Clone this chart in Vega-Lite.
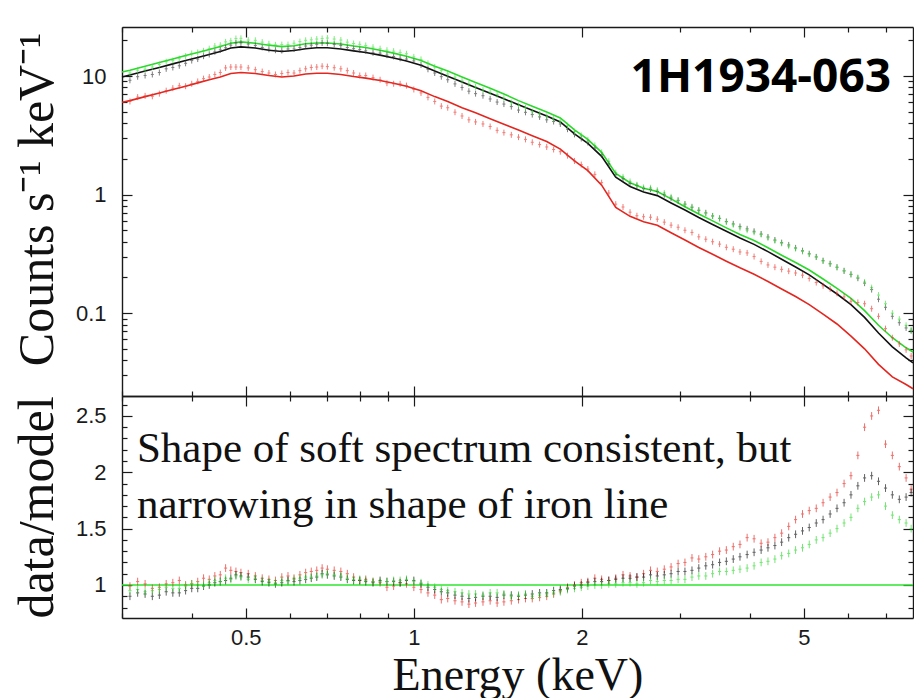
{
  "$schema": "https://vega.github.io/schema/vega-lite/v6.json",
  "padding": {"left": 12, "top": 26, "right": 0, "bottom": 0},
  "background": "white",
  "spacing": 0,
  "bounds": "flush",
  "datasets": {
    "d": [
      {"E":0.31,"cb":9.2,"cg":10.6,"cr":6.1,"rb":0.90,"rg":0.95,"rr":0.99},
      {"E":0.33,"cb":10.1,"cg":11.4,"cr":6.8,"rb":0.92,"rg":0.94,"rr":1.01},
      {"E":0.35,"cb":10.7,"cg":12.5,"cr":7.1,"rb":0.91,"rg":0.96,"rr":0.98},
      {"E":0.37,"cb":11.8,"cg":13.5,"cr":7.9,"rb":0.93,"rg":0.97,"rr":1.02},
      {"E":0.39,"cb":12.8,"cg":14.7,"cr":8.2,"rb":0.95,"rg":0.99,"rr":1.0},
      {"E":0.41,"cb":13.9,"cg":15.8,"cr":9.0,"rb":0.97,"rg":1.0,"rr":1.03},
      {"E":0.43,"cb":15.2,"cg":17.0,"cr":9.8,"rb":1.0,"rg":1.02,"rr":1.05},
      {"E":0.45,"cb":16.6,"cg":18.2,"cr":10.7,"rb":1.03,"rg":1.03,"rr":1.09},
      {"E":0.47,"cb":18.2,"cg":19.8,"cr":11.9,"rb":1.06,"rg":1.05,"rr":1.13},
      {"E":0.49,"cb":19.0,"cg":20.8,"cr":11.9,"rb":1.08,"rg":1.07,"rr":1.11},
      {"E":0.52,"cb":18.1,"cg":20.0,"cr":11.3,"rb":1.05,"rg":1.06,"rr":1.08},
      {"E":0.55,"cb":16.8,"cg":18.7,"cr":10.6,"rb":1.02,"rg":1.03,"rr":1.05},
      {"E":0.58,"cb":16.4,"cg":18.4,"cr":10.5,"rb":1.02,"rg":1.04,"rr":1.07},
      {"E":0.61,"cb":16.9,"cg":18.9,"cr":10.6,"rb":1.03,"rg":1.05,"rr":1.06},
      {"E":0.64,"cb":17.9,"cg":20.0,"cr":11.5,"rb":1.05,"rg":1.07,"rr":1.11},
      {"E":0.67,"cb":18.5,"cg":20.5,"cr":11.9,"rb":1.07,"rg":1.08,"rr":1.13},
      {"E":0.70,"cb":18.9,"cg":20.9,"cr":12.0,"rb":1.09,"rg":1.10,"rr":1.14},
      {"E":0.74,"cb":18.1,"cg":20.1,"cr":11.5,"rb":1.07,"rg":1.08,"rr":1.12},
      {"E":0.78,"cb":17.0,"cg":18.8,"cr":10.6,"rb":1.04,"rg":1.05,"rr":1.07},
      {"E":0.82,"cb":16.3,"cg":18.1,"cr":10.1,"rb":1.03,"rg":1.04,"rr":1.05},
      {"E":0.87,"cb":15.6,"cg":17.0,"cr":9.3,"rb":1.04,"rg":1.03,"rr":1.02},
      {"E":0.92,"cb":14.6,"cg":16.2,"cr":8.6,"rb":1.03,"rg":1.04,"rr":0.99},
      {"E":0.97,"cb":13.9,"cg":15.4,"cr":8.3,"rb":1.04,"rg":1.05,"rr":1.01},
      {"E":1.03,"cb":12.4,"cg":13.8,"cr":7.2,"rb":1.01,"rg":1.02,"rr":0.96},
      {"E":1.09,"cb":10.6,"cg":11.9,"cr":6.1,"rb":0.96,"rg":0.98,"rr":0.91},
      {"E":1.15,"cb":9.3,"cg":10.4,"cr":5.4,"rb":0.93,"rg":0.95,"rr":0.88},
      {"E":1.22,"cb":8.0,"cg":9.1,"cr":4.6,"rb":0.90,"rg":0.93,"rr":0.85},
      {"E":1.29,"cb":7.1,"cg":8.1,"cr":4.1,"rb":0.89,"rg":0.92,"rr":0.84},
      {"E":1.37,"cb":6.4,"cg":7.3,"cr":3.75,"rb":0.90,"rg":0.93,"rr":0.86},
      {"E":1.45,"cb":5.8,"cg":6.5,"cr":3.33,"rb":0.91,"rg":0.92,"rr":0.85},
      {"E":1.54,"cb":5.16,"cg":5.64,"cr":3.05,"rb":0.90,"rg":0.91,"rr":0.87},
      {"E":1.63,"cb":4.73,"cg":5.0,"cr":2.76,"rb":0.92,"rg":0.90,"rr":0.88},
      {"E":1.73,"cb":4.27,"cg":4.56,"cr":2.52,"rb":0.93,"rg":0.92,"rr":0.90},
      {"E":1.83,"cb":3.94,"cg":4.16,"cr":2.3,"rb":0.96,"rg":0.94,"rr":0.95},
      {"E":1.94,"cb":3.22,"cg":3.4,"cr":1.92,"rb":0.99,"rg":0.97,"rr":1.0},
      {"E":2.05,"cb":2.75,"cg":2.89,"cr":1.64,"rb":1.02,"rg":0.99,"rr":1.03},
      {"E":2.17,"cb":2.16,"cg":2.27,"cr":1.26,"rb":1.03,"rg":1.0,"rr":1.05},
      {"E":2.30,"cb":1.47,"cg":1.53,"cr":0.83,"rb":1.05,"rg":1.01,"rr":1.06},
      {"E":2.44,"cb":1.24,"cg":1.29,"cr":0.71,"rb":1.06,"rg":1.02,"rr":1.08},
      {"E":2.58,"cb":1.12,"cg":1.15,"cr":0.65,"rb":1.07,"rg":1.02,"rr":1.10},
      {"E":2.73,"cb":1.06,"cg":1.09,"cr":0.62,"rb":1.08,"rg":1.03,"rr":1.12},
      {"E":2.89,"cb":0.935,"cg":0.957,"cr":0.552,"rb":1.10,"rg":1.04,"rr":1.16},
      {"E":3.06,"cb":0.83,"cg":0.83,"cr":0.50,"rb":1.12,"rg":1.05,"rr":1.20},
      {"E":3.24,"cb":0.736,"cg":0.74,"cr":0.44,"rb":1.15,"rg":1.08,"rr":1.23},
      {"E":3.43,"cb":0.66,"cg":0.66,"cr":0.40,"rb":1.18,"rg":1.10,"rr":1.27},
      {"E":3.63,"cb":0.593,"cg":0.587,"cr":0.359,"rb":1.21,"rg":1.12,"rr":1.31},
      {"E":3.84,"cb":0.538,"cg":0.524,"cr":0.328,"rb":1.25,"rg":1.14,"rr":1.36},
      {"E":4.07,"cb":0.49,"cg":0.48,"cr":0.30,"rb":1.29,"rg":1.17,"rr":1.41},
      {"E":4.31,"cb":0.439,"cg":0.431,"cr":0.255,"rb":1.33,"rg":1.21,"rr":1.38},
      {"E":4.56,"cb":0.393,"cg":0.388,"cr":0.234,"rb":1.38,"rg":1.26,"rr":1.46},
      {"E":4.83,"cb":0.355,"cg":0.35,"cr":0.218,"rb":1.45,"rg":1.31,"rr":1.58},
      {"E":5.11,"cb":0.317,"cg":0.314,"cr":0.196,"rb":1.51,"rg":1.36,"rr":1.66},
      {"E":5.41,"cb":0.277,"cg":0.275,"cr":0.17,"rb":1.58,"rg":1.42,"rr":1.73},
      {"E":5.73,"cb":0.244,"cg":0.243,"cr":0.147,"rb":1.68,"rg":1.50,"rr":1.82},
      {"E":6.07,"cb":0.212,"cg":0.213,"cr":0.126,"rb":1.80,"rg":1.60,"rr":1.97},
      {"E":6.42,"cb":0.179,"cg":0.183,"cr":0.12,"rb":1.95,"rg":1.74,"rr":2.40},
      {"E":6.80,"cb":0.131,"cg":0.142,"cr":0.094,"rb":1.92,"rg":1.80,"rr":2.55},
      {"E":7.20,"cb":0.094,"cg":0.10,"cr":0.062,"rb":1.80,"rg":1.62,"rr":2.15},
      {"E":7.62,"cb":0.075,"cg":0.079,"cr":0.049,"rb":1.78,"rg":1.55,"rr":1.95},
      {"E":0.32,"cb":9.86,"cg":11.2,"cr":6.64,"rb":0.93,"rg":0.96,"rr":1.03},
      {"E":0.34,"cb":10.3,"cg":11.9,"cr":6.74,"rb":0.90,"rg":0.95,"rr":0.97},
      {"E":0.36,"cb":11.5,"cg":13.2,"cr":7.52,"rb":0.94,"rg":0.98,"rr":1.01},
      {"E":0.38,"cb":12.2,"cg":14.0,"cr":8.27,"rb":0.93,"rg":0.97,"rr":1.04},
      {"E":0.40,"cb":13.5,"cg":15.5,"cr":8.6,"rb":0.97,"rg":1.01,"rr":1.01},
      {"E":0.42,"cb":14.7,"cg":16.3,"cr":9.5,"rb":0.99,"rg":1.0,"rr":1.06},
      {"E":0.44,"cb":16.0,"cg":17.9,"cr":10.3,"rb":1.02,"rg":1.04,"rr":1.08},
      {"E":0.46,"cb":17.3,"cg":19.4,"cr":11.7,"rb":1.04,"rg":1.06,"rr":1.15},
      {"E":0.48,"cb":19.0,"cg":20.7,"cr":11.9,"rb":1.09,"rg":1.08,"rr":1.12},
      {"E":0.505,"cb":18.6,"cg":20.1,"cr":11.7,"rb":1.07,"rg":1.05,"rr":1.10},
      {"E":0.535,"cb":17.4,"cg":19.3,"cr":10.9,"rb":1.03,"rg":1.04,"rr":1.06},
      {"E":0.565,"cb":16.5,"cg":18.3,"cr":10.3,"rb":1.01,"rg":1.02,"rr":1.04},
      {"E":0.595,"cb":16.9,"cg":18.4,"cr":10.7,"rb":1.04,"rg":1.03,"rr":1.08},
      {"E":0.625,"cb":17.4,"cg":19.5,"cr":11.1,"rb":1.04,"rg":1.06,"rr":1.09},
      {"E":0.655,"cb":18.2,"cg":20.2,"cr":11.8,"rb":1.06,"rg":1.07,"rr":1.12},
      {"E":0.685,"cb":19.0,"cg":20.7,"cr":12.1,"rb":1.10,"rg":1.09,"rr":1.15},
      {"E":0.72,"cb":18.5,"cg":20.5,"cr":11.75,"rb":1.08,"rg":1.09,"rr":1.13},
      {"E":0.76,"cb":17.4,"cg":19.3,"cr":11.1,"rb":1.05,"rg":1.06,"rr":1.10},
      {"E":0.80,"cb":16.7,"cg":18.5,"cr":10.1,"rb":1.04,"rg":1.05,"rr":1.04},
      {"E":0.845,"cb":15.7,"cg":17.5,"cr":9.7,"rb":1.02,"rg":1.03,"rr":1.03},
      {"E":0.895,"cb":15.0,"cg":16.5,"cr":8.7,"rb":1.03,"rg":1.03,"rr":0.98},
      {"E":0.945,"cb":14.1,"cg":15.8,"cr":8.6,"rb":1.02,"rg":1.04,"rr":1.02},
      {"E":1.00,"cb":13.4,"cg":14.5,"cr":7.7,"rb":1.04,"rg":1.03,"rr":0.98},
      {"E":1.06,"cb":11.4,"cg":12.8,"cr":6.6,"rb":0.98,"rg":1.0,"rr":0.93},
      {"E":1.12,"cb":9.87,"cg":11.1,"cr":5.57,"rb":0.94,"rg":0.96,"rr":0.87},
      {"E":1.185,"cb":8.58,"cg":9.78,"cr":4.95,"rb":0.91,"rg":0.94,"rr":0.86},
      {"E":1.255,"cb":7.44,"cg":8.56,"cr":4.27,"rb":0.88,"rg":0.92,"rr":0.83},
      {"E":1.33,"cb":6.82,"cg":7.6,"cr":3.94,"rb":0.90,"rg":0.91,"rr":0.85},
      {"E":1.41,"cb":6.03,"cg":6.96,"cr":3.48,"rb":0.89,"rg":0.93,"rr":0.84},
      {"E":1.495,"cb":5.52,"cg":5.97,"cr":3.19,"rb":0.91,"rg":0.90,"rr":0.86},
      {"E":1.585,"cb":4.94,"cg":5.4,"cr":2.92,"rb":0.91,"rg":0.92,"rr":0.88},
      {"E":1.68,"cb":4.52,"cg":4.78,"cr":2.64,"rb":0.93,"rg":0.91,"rr":0.89},
      {"E":1.78,"cb":4.13,"cg":4.37,"cr":2.4,"rb":0.95,"rg":0.93,"rr":0.92},
      {"E":1.885,"cb":3.56,"cg":3.81,"cr":2.13,"rb":0.97,"rg":0.96,"rr":0.98},
      {"E":1.995,"cb":2.97,"cg":3.15,"cr":1.79,"rb":1.0,"rg":0.98,"rr":1.02},
      {"E":2.11,"cb":2.47,"cg":2.6,"cr":1.48,"rb":1.03,"rg":1.0,"rr":1.06},
      {"E":2.235,"cb":1.82,"cg":1.91,"cr":1.03,"rb":1.04,"rg":1.01,"rr":1.04},
      {"E":2.37,"cb":1.36,"cg":1.41,"cr":0.785,"rb":1.06,"rg":1.02,"rr":1.09},
      {"E":2.51,"cb":1.19,"cg":1.21,"cr":0.663,"rb":1.07,"rg":1.01,"rr":1.07},
      {"E":2.655,"cb":1.11,"cg":1.14,"cr":0.644,"rb":1.09,"rg":1.04,"rr":1.13},
      {"E":2.81,"cb":0.997,"cg":1.03,"cr":0.585,"rb":1.09,"rg":1.04,"rr":1.14},
      {"E":2.975,"cb":0.89,"cg":0.898,"cr":0.53,"rb":1.12,"rg":1.05,"rr":1.19},
      {"E":3.15,"cb":0.78,"cg":0.79,"cr":0.479,"rb":1.13,"rg":1.07,"rr":1.24},
      {"E":3.335,"cb":0.702,"cg":0.694,"cr":0.42,"rb":1.17,"rg":1.08,"rr":1.25},
      {"E":3.53,"cb":0.63,"cg":0.63,"cr":0.382,"rb":1.20,"rg":1.12,"rr":1.30},
      {"E":3.735,"cb":0.566,"cg":0.556,"cr":0.346,"rb":1.23,"rg":1.13,"rr":1.34},
      {"E":3.955,"cb":0.514,"cg":0.50,"cr":0.322,"rb":1.27,"rg":1.15,"rr":1.42},
      {"E":4.19,"cb":0.465,"cg":0.46,"cr":0.273,"rb":1.31,"rg":1.20,"rr":1.37},
      {"E":4.435,"cb":0.414,"cg":0.408,"cr":0.244,"rb":1.35,"rg":1.23,"rr":1.42},
      {"E":4.695,"cb":0.376,"cg":0.367,"cr":0.226,"rb":1.42,"rg":1.28,"rr":1.52},
      {"E":4.97,"cb":0.336,"cg":0.331,"cr":0.209,"rb":1.48,"rg":1.33,"rr":1.63},
      {"E":5.26,"cb":0.298,"cg":0.297,"cr":0.181,"rb":1.55,"rg":1.40,"rr":1.68},
      {"E":5.57,"cb":0.261,"cg":0.26,"cr":0.16,"rb":1.63,"rg":1.46,"rr":1.78},
      {"E":5.9,"cb":0.227,"cg":0.228,"cr":0.137,"rb":1.73,"rg":1.55,"rr":1.90},
      {"E":6.245,"cb":0.197,"cg":0.20,"cr":0.123,"rb":1.88,"rg":1.68,"rr":2.15},
      {"E":6.61,"cb":0.158,"cg":0.164,"cr":0.109,"rb":1.97,"rg":1.78,"rr":2.50},
      {"E":7.0,"cb":0.112,"cg":0.12,"cr":0.074,"rb":1.86,"rg":1.70,"rr":2.25},
      {"E":7.41,"cb":0.083,"cg":0.089,"cr":0.055,"rb":1.76,"rg":1.58,"rr":2.05},
      {"E":7.78,"cb":0.071,"cg":0.072,"cr":0.0435,"rb":1.82,"rg":1.50,"rr":1.85}
    ],
    "m": [
      {"E":0.30,"b":9.8,"g":10.8,"r":6.0},
      {"E":0.31,"b":10.2,"g":11.2,"r":6.2},
      {"E":0.33,"b":11.0,"g":12.1,"r":6.7},
      {"E":0.35,"b":11.8,"g":13.0,"r":7.2},
      {"E":0.37,"b":12.65,"g":13.9,"r":7.7},
      {"E":0.39,"b":13.5,"g":14.9,"r":8.2},
      {"E":0.41,"b":14.35,"g":15.8,"r":8.75},
      {"E":0.43,"b":15.2,"g":16.7,"r":9.3},
      {"E":0.45,"b":16.1,"g":17.7,"r":9.8},
      {"E":0.47,"b":17.2,"g":18.9,"r":10.5},
      {"E":0.49,"b":17.6,"g":19.4,"r":10.7},
      {"E":0.52,"b":17.2,"g":18.9,"r":10.5},
      {"E":0.55,"b":16.5,"g":18.2,"r":10.1},
      {"E":0.58,"b":16.1,"g":17.7,"r":9.8},
      {"E":0.61,"b":16.4,"g":18.0,"r":10.0},
      {"E":0.64,"b":17.0,"g":18.7,"r":10.4},
      {"E":0.67,"b":17.3,"g":19.0,"r":10.55},
      {"E":0.70,"b":17.3,"g":19.0,"r":10.55},
      {"E":0.74,"b":16.9,"g":18.6,"r":10.3},
      {"E":0.78,"b":16.3,"g":17.9,"r":9.9},
      {"E":0.82,"b":15.8,"g":17.4,"r":9.6},
      {"E":0.87,"b":15.0,"g":16.5,"r":9.15},
      {"E":0.92,"b":14.2,"g":15.6,"r":8.7},
      {"E":0.97,"b":13.4,"g":14.7,"r":8.2},
      {"E":1.03,"b":12.3,"g":13.5,"r":7.5},
      {"E":1.09,"b":11.0,"g":12.1,"r":6.7},
      {"E":1.15,"b":9.97,"g":11.0,"r":6.1},
      {"E":1.22,"b":8.9,"g":9.8,"r":5.4},
      {"E":1.29,"b":8.0,"g":8.8,"r":4.9},
      {"E":1.37,"b":7.15,"g":7.9,"r":4.36},
      {"E":1.45,"b":6.42,"g":7.06,"r":3.92},
      {"E":1.54,"b":5.73,"g":6.2,"r":3.5},
      {"E":1.63,"b":5.14,"g":5.55,"r":3.14},
      {"E":1.73,"b":4.59,"g":4.96,"r":2.8},
      {"E":1.83,"b":4.1,"g":4.43,"r":2.42},
      {"E":1.94,"b":3.25,"g":3.51,"r":1.92},
      {"E":2.05,"b":2.7,"g":2.92,"r":1.59},
      {"E":2.17,"b":2.1,"g":2.27,"r":1.2},
      {"E":2.30,"b":1.40,"g":1.51,"r":0.78},
      {"E":2.44,"b":1.17,"g":1.26,"r":0.655},
      {"E":2.58,"b":1.05,"g":1.13,"r":0.59},
      {"E":2.73,"b":0.98,"g":1.06,"r":0.55},
      {"E":2.89,"b":0.85,"g":0.92,"r":0.476},
      {"E":3.06,"b":0.74,"g":0.79,"r":0.414},
      {"E":3.24,"b":0.64,"g":0.685,"r":0.358},
      {"E":3.43,"b":0.56,"g":0.60,"r":0.314},
      {"E":3.63,"b":0.49,"g":0.524,"r":0.274},
      {"E":3.84,"b":0.43,"g":0.46,"r":0.241},
      {"E":4.07,"b":0.38,"g":0.41,"r":0.213},
      {"E":4.31,"b":0.33,"g":0.356,"r":0.185},
      {"E":4.56,"b":0.285,"g":0.308,"r":0.16},
      {"E":4.83,"b":0.245,"g":0.267,"r":0.138},
      {"E":5.11,"b":0.21,"g":0.231,"r":0.118},
      {"E":5.41,"b":0.175,"g":0.194,"r":0.098},
      {"E":5.73,"b":0.145,"g":0.162,"r":0.081},
      {"E":6.07,"b":0.118,"g":0.133,"r":0.064},
      {"E":6.42,"b":0.092,"g":0.105,"r":0.05},
      {"E":6.80,"b":0.068,"g":0.079,"r":0.037},
      {"E":7.20,"b":0.052,"g":0.062,"r":0.029},
      {"E":7.62,"b":0.042,"g":0.051,"r":0.025},
      {"E":7.84,"b":0.038,"g":0.047,"r":0.023}
    ]
  },
  "vconcat": [
    {
      "width": 791,
      "height": 369,
      "resolve": {"axis": {"x": "independent", "y": "independent"}},
      "layer": [
        {
          "data": {"name": "m"},
          "transform": [{"fold": ["r", "b", "g"], "as": ["s", "v"]}],
          "mark": {"type": "line", "strokeWidth": 1.6},
          "encoding": {
            "x": {"field": "E", "type": "quantitative", "scale": {"type": "log", "domain": [0.3, 7.84], "nice": false},
                  "axis": {"orient": "bottom", "values": [0.5, 1, 2, 5], "tickSize": -10, "labels": false, "title": null}},
            "y": {"field": "v", "type": "quantitative", "scale": {"type": "log", "domain": [0.02, 25.9], "nice": false},
                  "axis": {"orient": "left", "values": [0.1, 1, 10], "tickSize": -10, "format": "~g", "labelPadding": 26,
                           "title": "Counts s⁻¹ keV⁻¹", "titleFontSize": 50, "titlePadding": 13, "titleY": 172}},
            "color": {"field": "s", "type": "nominal",
                      "scale": {"domain": ["r", "b", "g", "cr", "cb", "cg"], "range": ["#e3261f", "#111111", "#2bd82b", "#ea3a32", "#3a3a3a", "#3ce23c"]},
                      "legend": null}
          }
        },
        {
          "data": {"name": "d"},
          "transform": [{"fold": ["cr", "cb", "cg"], "as": ["s", "v"]}],
          "mark": {"type": "point", "shape": "M-0.5,0L0.5,0M0,-1L0,1", "filled": false, "size": 36, "strokeWidth": 1, "opacity": 0.65},
          "encoding": {
            "x": {"field": "E", "type": "quantitative", "scale": {"type": "log", "domain": [0.3, 7.84], "nice": false},
                  "axis": {"orient": "bottom", "values": [0.3, 0.4, 0.6, 0.7, 0.8, 0.9, 3, 4, 6, 7], "tickSize": -5, "labels": false, "domain": false, "title": null}},
            "y": {"field": "v", "type": "quantitative", "scale": {"type": "log", "domain": [0.02, 25.9], "nice": false},
                  "axis": {"orient": "left", "values": [0.03, 0.04, 0.05, 0.06, 0.07, 0.08, 0.09, 0.2, 0.3, 0.4, 0.5, 0.6, 0.7, 0.8, 0.9, 2, 3, 4, 5, 6, 7, 8, 9, 20], "tickSize": -5, "labels": false, "domain": false, "title": null}},
            "color": {"field": "s", "type": "nominal",
                      "scale": {"domain": ["r", "b", "g", "cr", "cb", "cg"], "range": ["#e3261f", "#111111", "#2bd82b", "#ea3a32", "#3a3a3a", "#3ce23c"]},
                      "legend": null}
          }
        },
        {
          "data": {"name": "m"},
          "mark": {"type": "point", "opacity": 0},
          "encoding": {
            "x": {"field": "E", "type": "quantitative", "scale": {"type": "log", "domain": [0.3, 7.84], "nice": false},
                  "axis": {"orient": "top", "values": [0.5, 1, 2, 5], "tickSize": -10, "labels": false, "title": null}},
            "y": {"field": "b", "type": "quantitative", "scale": {"type": "log", "domain": [0.02, 25.9], "nice": false},
                  "axis": {"orient": "right", "values": [0.1, 1, 10], "tickSize": -10, "labels": false, "title": null}}
          }
        },
        {
          "data": {"name": "m"},
          "mark": {"type": "point", "opacity": 0},
          "encoding": {
            "x": {"field": "E", "type": "quantitative", "scale": {"type": "log", "domain": [0.3, 7.84], "nice": false},
                  "axis": {"orient": "top", "values": [0.3, 0.4, 0.6, 0.7, 0.8, 0.9, 3, 4, 6, 7], "tickSize": -5, "labels": false, "domain": false, "title": null}},
            "y": {"field": "b", "type": "quantitative", "scale": {"type": "log", "domain": [0.02, 25.9], "nice": false},
                  "axis": {"orient": "right", "values": [0.03, 0.04, 0.05, 0.06, 0.07, 0.08, 0.09, 0.2, 0.3, 0.4, 0.5, 0.6, 0.7, 0.8, 0.9, 2, 3, 4, 5, 6, 7, 8, 9, 20], "tickSize": -5, "labels": false, "domain": false, "title": null}}
          }
        },
        {
          "data": {"values": [{"label": "1H1934-063", "E": 7.16, "c": 7.4}]},
          "mark": {"type": "text", "font": "Open Sans", "fontWeight": "bold", "fontSize": 46, "align": "right", "baseline": "alphabetic", "color": "#000000"},
          "encoding": {
            "x": {"field": "E", "type": "quantitative", "scale": {"type": "log", "domain": [0.3, 7.84], "nice": false}, "axis": null},
            "y": {"field": "c", "type": "quantitative", "scale": {"type": "log", "domain": [0.02, 25.9], "nice": false}, "axis": null},
            "text": {"field": "label"}
          }
        }
      ]
    },
    {
      "width": 791,
      "height": 222,
      "resolve": {"axis": {"x": "independent", "y": "independent"}},
      "layer": [
        {
          "data": {"values": [{"ref": 1}]},
          "mark": {"type": "rule", "color": "#2ee62e", "strokeWidth": 1.5},
          "encoding": {
            "y": {"field": "ref", "type": "quantitative", "scale": {"domain": [0.707, 2.677], "nice": false, "zero": false}, "axis": null}
          }
        },
        {
          "data": {"name": "d"},
          "transform": [{"fold": ["rr", "rb", "rg"], "as": ["s", "v"]}],
          "mark": {"type": "point", "shape": "M-0.4,0L0.4,0M0,-1L0,1", "filled": false, "size": 60, "strokeWidth": 1, "opacity": 0.65},
          "encoding": {
            "x": {"field": "E", "type": "quantitative", "scale": {"type": "log", "domain": [0.3, 7.84], "nice": false},
                  "axis": {"orient": "bottom", "values": [0.5, 1, 2, 5], "tickSize": -10, "format": "~g", "labelPadding": 19,
                           "title": "Energy (keV)", "titleFontSize": 46, "titlePadding": 5}},
            "y": {"field": "v", "type": "quantitative", "scale": {"domain": [0.707, 2.677], "nice": false, "zero": false},
                  "axis": {"orient": "left", "values": [1, 1.5, 2, 2.5], "tickSize": -10, "format": "~g", "labelPadding": 26,
                           "title": "data/model", "titleFontSize": 50, "titlePadding": 13}},
            "color": {"field": "s", "type": "nominal",
                      "scale": {"domain": ["rr", "rb", "rg"], "range": ["#ea3a32", "#3a3a3a", "#3ce23c"]},
                      "legend": null}
          }
        },
        {
          "data": {"name": "d"},
          "mark": {"type": "point", "opacity": 0},
          "encoding": {
            "x": {"field": "E", "type": "quantitative", "scale": {"type": "log", "domain": [0.3, 7.84], "nice": false},
                  "axis": {"orient": "bottom", "values": [0.3, 0.4, 0.6, 0.7, 0.8, 0.9, 3, 4, 6, 7], "tickSize": -5, "labels": false, "domain": false, "title": null}},
            "y": {"field": "rb", "type": "quantitative", "scale": {"domain": [0.707, 2.677], "nice": false, "zero": false},
                  "axis": {"orient": "left", "values": [0.8, 0.9, 1.1, 1.2, 1.3, 1.4, 1.6, 1.7, 1.8, 1.9, 2.1, 2.2, 2.3, 2.4, 2.6], "tickSize": -5, "labels": false, "domain": false, "title": null}}
          }
        },
        {
          "data": {"name": "d"},
          "mark": {"type": "point", "opacity": 0},
          "encoding": {
            "x": {"field": "E", "type": "quantitative", "scale": {"type": "log", "domain": [0.3, 7.84], "nice": false},
                  "axis": {"orient": "top", "values": [0.5, 1, 2, 5], "tickSize": -10, "labels": false, "title": null}},
            "y": {"field": "rb", "type": "quantitative", "scale": {"domain": [0.707, 2.677], "nice": false, "zero": false},
                  "axis": {"orient": "right", "values": [1, 1.5, 2, 2.5], "tickSize": -10, "labels": false, "title": null}}
          }
        },
        {
          "data": {"name": "d"},
          "mark": {"type": "point", "opacity": 0},
          "encoding": {
            "x": {"field": "E", "type": "quantitative", "scale": {"type": "log", "domain": [0.3, 7.84], "nice": false},
                  "axis": {"orient": "top", "values": [0.3, 0.4, 0.6, 0.7, 0.8, 0.9, 3, 4, 6, 7], "tickSize": -5, "labels": false, "domain": false, "title": null}},
            "y": {"field": "rb", "type": "quantitative", "scale": {"domain": [0.707, 2.677], "nice": false, "zero": false},
                  "axis": {"orient": "right", "values": [0.8, 0.9, 1.1, 1.2, 1.3, 1.4, 1.6, 1.7, 1.8, 1.9, 2.1, 2.2, 2.3, 2.4, 2.6], "tickSize": -5, "labels": false, "domain": false, "title": null}}
          }
        },
        {
          "data": {"values": [
            {"t": "Shape of soft spectrum consistent, but", "E": 0.319, "q": 2.09},
            {"t": "narrowing in shape of iron line", "E": 0.319, "q": 1.595}
          ]},
          "mark": {"type": "text", "font": "Liberation Serif", "fontSize": 43, "align": "left", "baseline": "alphabetic", "color": "#111111"},
          "encoding": {
            "x": {"field": "E", "type": "quantitative", "scale": {"type": "log", "domain": [0.3, 7.84], "nice": false}, "axis": null},
            "y": {"field": "q", "type": "quantitative", "scale": {"domain": [0.707, 2.677], "nice": false, "zero": false}, "axis": null},
            "text": {"field": "t"}
          }
        }
      ]
    }
  ],
  "config": {
    "view": {"stroke": null},
    "axis": {
      "grid": false,
      "domainColor": "#1a1a1a",
      "domainWidth": 1.4,
      "tickColor": "#1a1a1a",
      "tickWidth": 1.2,
      "labelFont": "Liberation Sans",
      "labelFontSize": 22,
      "labelColor": "#1a1a1a",
      "titleFont": "Liberation Serif",
      "titleFontWeight": "normal",
      "titleColor": "#111111"
    }
  }
}
